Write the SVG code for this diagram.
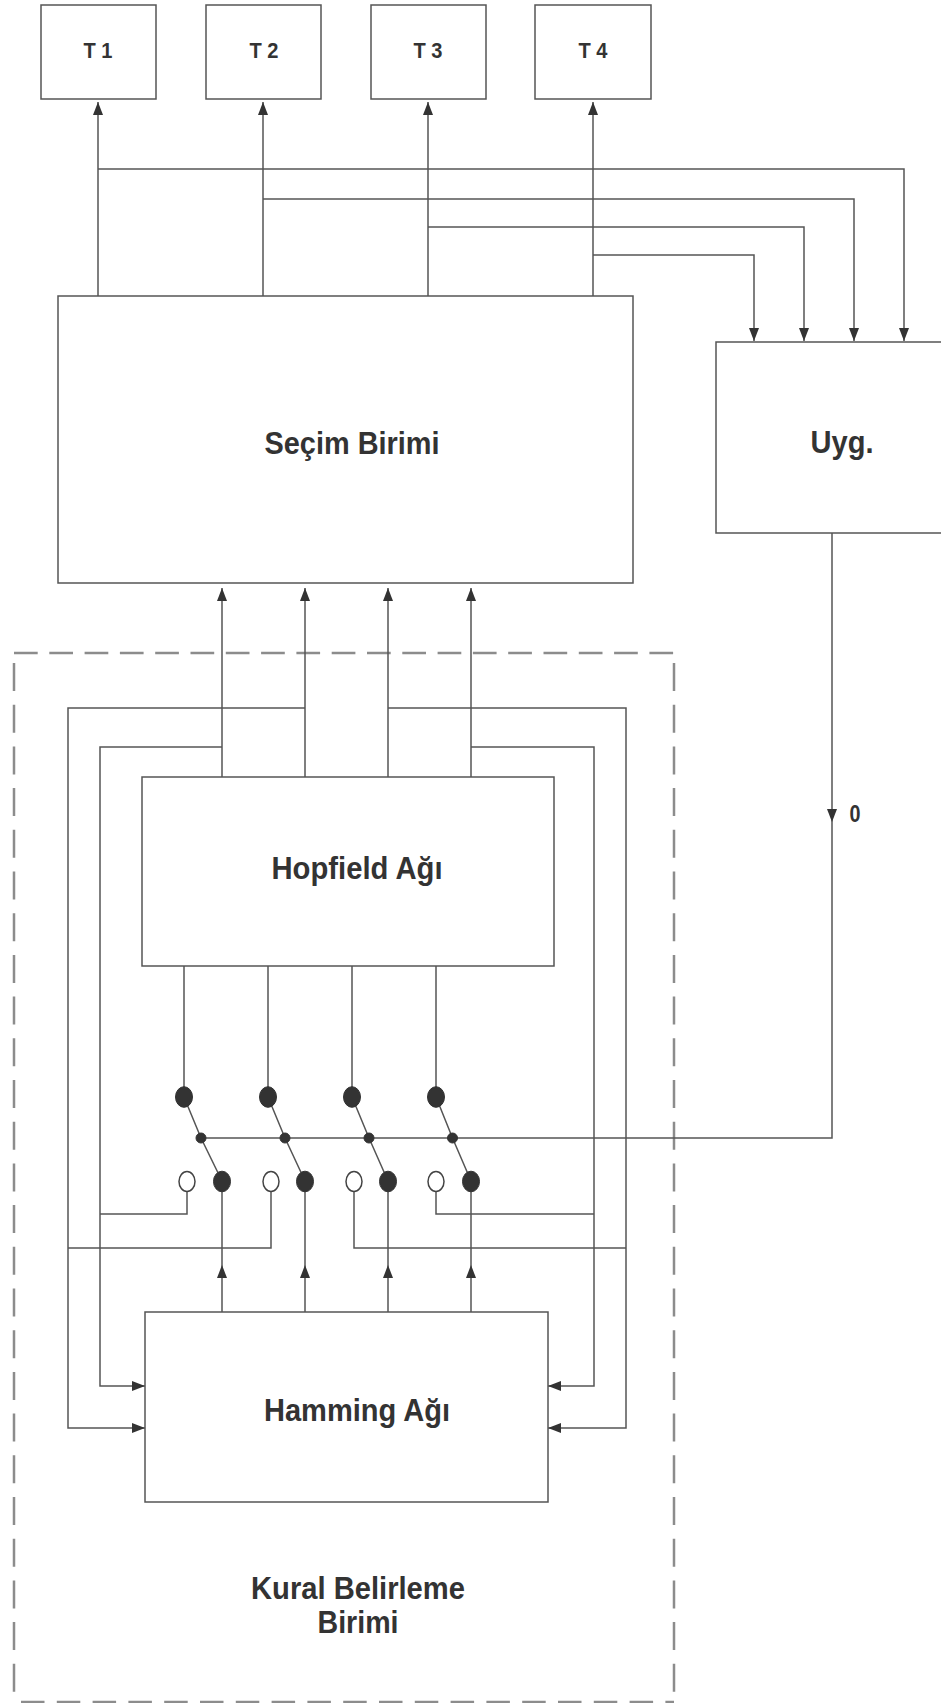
<svg xmlns="http://www.w3.org/2000/svg" width="941" height="1703" viewBox="0 0 941 1703">
<style>
.box{fill:#fff;stroke:#555;stroke-width:1.5}
.ln{fill:none;stroke:#555;stroke-width:1.5}
.arr{fill:none;stroke:#555;stroke-width:1.5;marker-end:url(#ah)}
.lbl{font-family:"Liberation Sans",Arial,sans-serif;font-weight:bold;fill:#333;text-anchor:middle}
.big{font-size:32px}
.sm{font-size:22px}
.dot{fill:#333;stroke:#333;stroke-width:1}
.open{fill:#fff;stroke:#444;stroke-width:1.5}
.dash{fill:none;stroke:#8c8c8c;stroke-width:2.5}
</style>
<defs>
<marker id="ah" viewBox="0 0 13 10" refX="13" refY="5" markerWidth="13" markerHeight="10" markerUnits="userSpaceOnUse" orient="auto">
<path d="M0,0 L13,5 L0,10 z" fill="#333"/>
</marker>
</defs>
<rect width="941" height="1703" fill="#fff"/>

<g id="kural">
<line class="dash" x1="14" y1="653" x2="674" y2="653" stroke-dasharray="23.7 11.6"/>
<line class="dash" x1="21" y1="1702" x2="674" y2="1702" stroke-dasharray="23.5 12.3"/>
<line class="dash" x1="14" y1="663" x2="14" y2="1702" stroke-dasharray="28 13.7"/>
<line class="dash" x1="674" y1="663" x2="674" y2="1702" stroke-dasharray="28 13.7"/>
<text class="lbl big" x="358" y="1599" textLength="214" lengthAdjust="spacingAndGlyphs">Kural Belirleme</text>
<text class="lbl big" x="358" y="1633" textLength="81" lengthAdjust="spacingAndGlyphs">Birimi</text>
</g>

<g id="connectors">
<line class="arr" x1="98" y1="296" x2="98" y2="102"/>
<line class="arr" x1="263" y1="296" x2="263" y2="102"/>
<line class="arr" x1="428" y1="296" x2="428" y2="102"/>
<line class="arr" x1="593" y1="296" x2="593" y2="102"/>
<path class="arr" d="M98,169 H904 V341"/>
<path class="arr" d="M263,199 H854 V341"/>
<path class="arr" d="M428,227 H804 V341"/>
<path class="arr" d="M593,255 H754 V341"/>
<line class="arr" x1="222" y1="777" x2="222" y2="588"/>
<line class="arr" x1="305" y1="777" x2="305" y2="588"/>
<line class="arr" x1="388" y1="777" x2="388" y2="588"/>
<line class="arr" x1="471" y1="777" x2="471" y2="588"/>
<path class="arr" d="M305,708 H68 V1428 H145"/>
<path class="arr" d="M222,747 H100 V1386 H145"/>
<path class="arr" d="M388,708 H626 V1428 H548"/>
<path class="arr" d="M471,747 H594 V1386 H548"/>
<line class="ln" x1="184" y1="966" x2="184" y2="1090"/>
<line class="ln" x1="268" y1="966" x2="268" y2="1090"/>
<line class="ln" x1="352" y1="966" x2="352" y2="1090"/>
<line class="ln" x1="436" y1="966" x2="436" y2="1090"/>
<path class="arr" d="M832,533 V822"/>
<path class="ln" d="M832,822 V1138 H201"/>
<line class="arr" x1="222" y1="1312" x2="222" y2="1265"/>
<line class="arr" x1="305" y1="1312" x2="305" y2="1265"/>
<line class="arr" x1="388" y1="1312" x2="388" y2="1265"/>
<line class="arr" x1="471" y1="1312" x2="471" y2="1265"/>
<line class="ln" x1="222" y1="1265" x2="222" y2="1185"/>
<line class="ln" x1="305" y1="1265" x2="305" y2="1185"/>
<line class="ln" x1="388" y1="1265" x2="388" y2="1185"/>
<line class="ln" x1="471" y1="1265" x2="471" y2="1185"/>
<path class="ln" d="M187,1190 V1214 H100"/>
<path class="ln" d="M271,1190 V1248 H68"/>
<path class="ln" d="M354,1190 V1248 H626"/>
<path class="ln" d="M436,1190 V1214 H594"/>
<text class="lbl" x="855" y="822" font-size="23" textLength="11" lengthAdjust="spacingAndGlyphs">0</text>
</g>

<g id="T1"><rect class="box" x="41" y="5" width="115" height="94"/><text class="lbl sm" x="98" y="58" textLength="29" lengthAdjust="spacingAndGlyphs">T 1</text></g>
<g id="T2"><rect class="box" x="206" y="5" width="115" height="94"/><text class="lbl sm" x="264" y="58" textLength="29" lengthAdjust="spacingAndGlyphs">T 2</text></g>
<g id="T3"><rect class="box" x="371" y="5" width="115" height="94"/><text class="lbl sm" x="428" y="58" textLength="29" lengthAdjust="spacingAndGlyphs">T 3</text></g>
<g id="T4"><rect class="box" x="535" y="5" width="116" height="94"/><text class="lbl sm" x="593" y="58" textLength="29" lengthAdjust="spacingAndGlyphs">T 4</text></g>

<g id="secim"><rect class="box" x="58" y="296" width="575" height="287"/><text class="lbl big" x="352" y="454" textLength="175" lengthAdjust="spacingAndGlyphs">Seçim Birimi</text></g>
<g id="uyg"><rect class="box" x="716" y="342" width="240" height="191"/><text class="lbl big" x="842" y="453" textLength="63" lengthAdjust="spacingAndGlyphs">Uyg.</text></g>
<g id="hopfield"><rect class="box" x="142" y="777" width="412" height="189"/><text class="lbl big" x="357" y="879" textLength="171" lengthAdjust="spacingAndGlyphs">Hopfield Ağı</text></g>
<g id="hamming"><rect class="box" x="145" y="1312" width="403" height="190"/><text class="lbl big" x="357" y="1421" textLength="186" lengthAdjust="spacingAndGlyphs">Hamming Ağı</text></g>

<g id="switch1">
<polyline class="ln" points="184,1097 201,1138 222,1181"/>
<ellipse class="dot" cx="184" cy="1097" rx="8.5" ry="10.3"/>
<circle class="dot" cx="201" cy="1138" r="5"/>
<ellipse class="dot" cx="222" cy="1181.5" rx="8.5" ry="10.3"/>
<ellipse class="open" cx="187" cy="1181.5" rx="8" ry="10"/>
</g>
<g id="switch2">
<polyline class="ln" points="268,1097 285,1138 305,1181"/>
<ellipse class="dot" cx="268" cy="1097" rx="8.5" ry="10.3"/>
<circle class="dot" cx="285" cy="1138" r="5"/>
<ellipse class="dot" cx="305" cy="1181.5" rx="8.5" ry="10.3"/>
<ellipse class="open" cx="271" cy="1181.5" rx="8" ry="10"/>
</g>
<g id="switch3">
<polyline class="ln" points="352,1097 369,1138 388,1181"/>
<ellipse class="dot" cx="352" cy="1097" rx="8.5" ry="10.3"/>
<circle class="dot" cx="369" cy="1138" r="5"/>
<ellipse class="dot" cx="388" cy="1181.5" rx="8.5" ry="10.3"/>
<ellipse class="open" cx="354" cy="1181.5" rx="8" ry="10"/>
</g>
<g id="switch4">
<polyline class="ln" points="436,1097 452.5,1138 471,1181"/>
<ellipse class="dot" cx="436" cy="1097" rx="8.5" ry="10.3"/>
<circle class="dot" cx="452.5" cy="1138" r="5"/>
<ellipse class="dot" cx="471" cy="1181.5" rx="8.5" ry="10.3"/>
<ellipse class="open" cx="436" cy="1181.5" rx="8" ry="10"/>
</g>
</svg>
